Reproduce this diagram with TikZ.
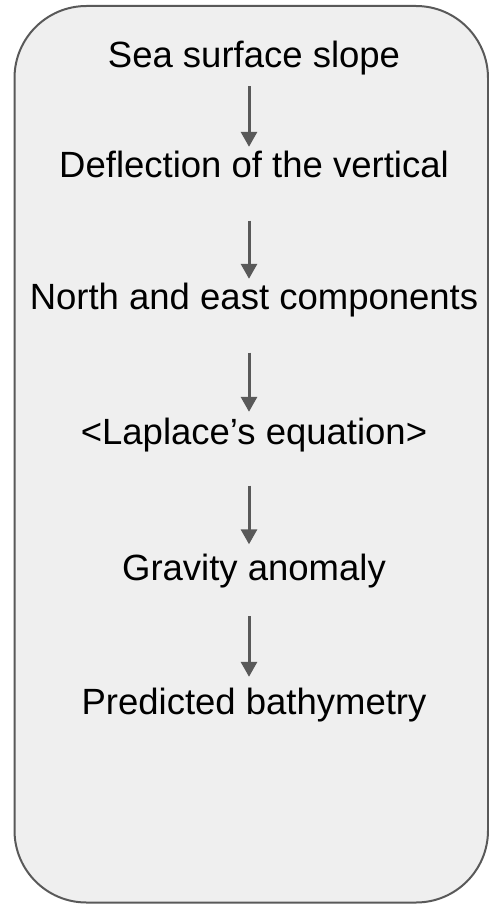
\documentclass[tikz,border=0pt]{standalone}
\usepackage{fontspec}
\setmainfont{Liberation Sans}
\usetikzlibrary{arrows.meta}
\definecolor{boxfill}{HTML}{EFEFEF}
\definecolor{boxline}{HTML}{595959}

\begin{document}
\begin{tikzpicture}[x=1pt,y=-1pt,
    stage/.style={anchor=base,inner sep=0pt,text height=26pt,text depth=7pt,
      font=\fontsize{36.5}{44}\selectfont},
    flow/.style={draw=boxline,line width=3pt,-{Triangle[width=16pt,length=15pt]}}]
  \useasboundingbox (0,0) rectangle (489,904);
  % Rahmen
  \draw[draw=boxline,fill=boxfill,line width=2pt,rounded corners=72pt] (14.5,6) rectangle (488,902.5);
  % Stufen
  \node[stage] (sea) at (254,67.5) {Sea surface slope};
  \node[stage] (defl) at (254,177.5) {Deflection of the vertical};
  \node[stage] (comp) at (254,309.5) {North and east components};
  \node[stage] (laplace) at (254,444.5) {<Laplace’s equation>};
  \node[stage] (gravity) at (254,580) {Gravity anomaly};
  \node[stage] (bathy) at (254,714.5) {Predicted bathymetry};
  % Pfeile
  \foreach \a/\b/\s/\e in {sea/defl/11.5/4.5, defl/comp/36/4.5, comp/laplace/36/6.5,
      laplace/gravity/34/9.5, gravity/bathy/29/11.5}
    \draw[flow,shorten <=\s pt,shorten >=\e pt] ([xshift=-5pt]\a.south) -- ([xshift=-5pt]\b.north);
\end{tikzpicture}
\end{document}
